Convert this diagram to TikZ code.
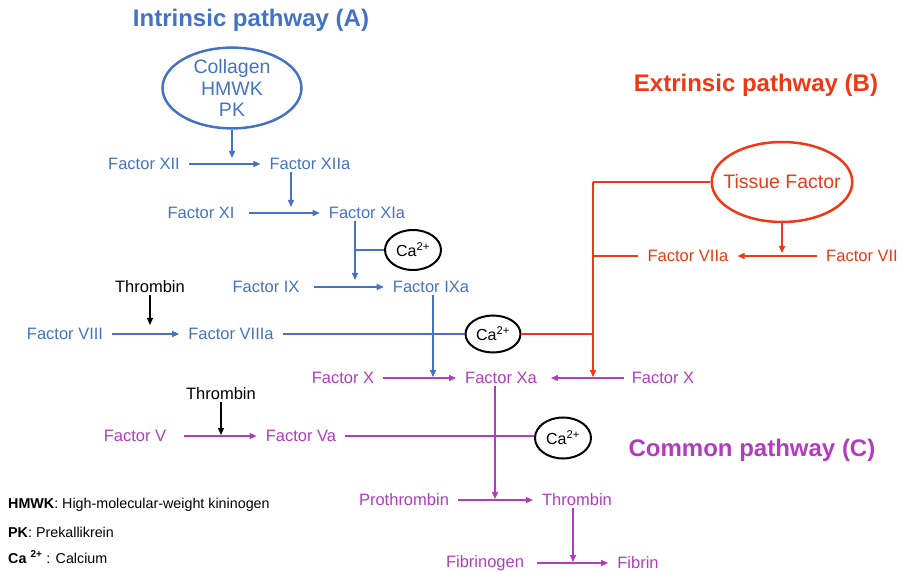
\documentclass[tikz,border=0pt]{standalone}
\usepackage{fontspec}
\setmainfont{Liberation Sans}
\usetikzlibrary{arrows.meta}
\usetikzlibrary{shapes.geometric}

\definecolor{intblue}{RGB}{68,114,196}
\definecolor{extred}{RGB}{240,56,20}
\definecolor{commag}{RGB}{177,60,191}

\begin{document}
\begin{tikzpicture}[x=1pt,y=-1pt,
    fac/.style={inner xsep=9pt,inner ysep=2pt,font=\fontsize{16.5}{20}\selectfont},
    intr/.style={fac,text=intblue},
    extr/.style={fac,text=extred},
    comm/.style={fac,text=commag},
    ttl/.style={font=\bfseries\fontsize{24}{28}\selectfont},
    oval/.style={ellipse,draw,line width=2.5pt,inner sep=0pt,font=\fontsize{19.5}{21.5}\selectfont},
    caoval/.style={ellipse,draw=black,line width=2pt,minimum width=56pt,minimum height=40pt,inner sep=0pt,font=\fontsize{16}{18}\selectfont},
    ln/.style={line width=1.4pt},
    arr/.style={ln,-{Triangle[length=7pt,width=6pt]}}]
    \useasboundingbox (0,0) rectangle (906,572);%
    % titles
    \node[ttl,text=intblue] (ttla) at (251,20) {Intrinsic pathway (A)};%
    \node[ttl,text=extred] (ttlb) at (756,85) {Extrinsic pathway (B)};%
    \node[ttl,text=commag] (ttlc) at (752,450) {Common pathway (C)};%
    % intrinsic pathway
    \node[oval,draw=intblue,text=intblue,align=center,minimum width=139pt,minimum height=77pt] (coll) at (232,88) {Collagen\\HMWK\\PK};%
    \node[intr] (f12) at (144,164) {Factor XII};%
    \node[intr] (f12a) at (310,164) {Factor XIIa};%
    \node[intr] (f11) at (201,213) {Factor XI};%
    \node[intr] (f11a) at (367,213) {Factor XIa};%
    \node[intr] (f9) at (266,287) {Factor IX};%
    \node[intr] (f9a) at (431,287) {Factor IXa};%
    \node[intr] (f8) at (65,334) {Factor VIII};%
    \node[intr] (f8a) at (231,334) {Factor VIIIa};%
    \node[fac] (thr1) at (150,287) {Thrombin};%
    \node[caoval] (ca1) at (413,250) {Ca\textsuperscript{2+}};%
    \node[caoval,minimum width=55pt,minimum height=37pt] (ca2) at (493,334) {Ca\textsuperscript{2+}};%
    % extrinsic pathway
    \node[oval,draw=extred,text=extred,inner xsep=-9pt,minimum width=140pt,minimum height=80pt] (tf) at (782,182) {Tissue Factor};%
    \node[extr] (f7a) at (688,256) {Factor VIIa};%
    \node[extr] (f7) at (862,256) {Factor VII};%
    % common pathway
    \node[comm] (fx1) at (343,378) {Factor X};%
    \node[comm] (fxa) at (501,378) {Factor Xa};%
    \node[comm] (fx2) at (663,378) {Factor X};%
    \node[fac] (thr2) at (221,394) {Thrombin};%
    \node[comm] (f5) at (135,436) {Factor V};%
    \node[comm] (f5a) at (301,436) {Factor Va};%
    \node[caoval,minimum height=41pt] (ca3) at (563,438) {Ca\textsuperscript{2+}};%
    \node[comm] (pro) at (404,500) {Prothrombin};%
    \node[comm] (thr) at (577,500) {Thrombin};%
    \node[comm] (fbg) at (485,563) {Fibrinogen};%
    \node[comm] (fib) at (638,563) {Fibrin};%
    % junctions
    \coordinate (j2) at (291,213);%
    \coordinate (j3) at (355,287);%
    \coordinate (j5) at (433,378);%
    \coordinate (jr) at (593,378);%
    \coordinate (j9) at (495,500);%
    \coordinate (j10) at (573,563);%
    % intrinsic connectors
    \draw[arr,intblue,shorten >=6pt] (coll) -- (coll |- f12);%
    \draw[arr,intblue] (f12) -- (f12a);%
    \draw[arr,intblue,shorten >=6pt] (f12a.south -| j2) -- (j2);%
    \draw[arr,intblue,shorten <=5pt] (f11) -- (f11a);%
    \draw[arr,intblue,shorten >=7pt] (f11a.south -| j3) -- (j3);%
    \draw[ln,intblue] (ca1) -- (ca1 -| j3);%
    \draw[arr,intblue,shorten <=5pt] (f9) -- (f9a);%
    \draw[arr,line width=1.2pt,shorten >=9pt] (thr1) -- (thr1 |- f8);%
    \draw[arr,intblue] (f8) -- (f8a);%
    \draw[ln,intblue] (f8a) -- (ca2);%
    \draw[arr,intblue,shorten >=1pt] (f9a.south -| j5) -- (j5);%
    % extrinsic connectors
    \draw[ln,extred] (tf) -- (tf -| jr);%
    \draw[arr,extred,shorten >=1pt] (tf -| jr) -- (jr);%
    \draw[ln,extred] (f7a) -- (f7a -| jr);%
    \draw[ln,extred] (ca2) -- (ca2 -| jr);%
    \draw[arr,extred,shorten >=3pt] (tf) -- (tf |- f7);%
    \draw[arr,extred] (f7) -- (f7a);%
    % common connectors
    \draw[arr,commag] (fx1) -- (fxa);%
    \draw[arr,commag,shorten <=-1pt,shorten >=5pt] (fx2) -- (fxa);%
    \draw[arr,commag,shorten >=1pt] (fxa.south -| j9) -- (j9);%
    \draw[arr,line width=1.2pt,shorten >=1pt] (thr2) -- (thr2 |- f5);%
    \draw[arr,commag,shorten <=9pt] (f5) -- (f5a);%
    \draw[ln,commag] (f5a) -- (ca3.west |- f5a);%
    \draw[arr,commag] (pro) -- (thr);%
    \draw[arr,commag,shorten >=1pt] (thr.south -| j10) -- (j10);%
    \draw[arr,commag,shorten <=4pt] (fbg) -- (fib);%
    % legend
    \node[anchor=west,inner sep=0pt,font=\fontsize{14.3}{17}\selectfont] (lg1) at (8,505) {\textbf{HMWK}: High-molecular-weight kininogen};%
    \node[anchor=west,inner sep=0pt,font=\fontsize{14.3}{17}\selectfont] (lg2) at (8,532) {\textbf{PK}: Prekallikrein};%
    \node[anchor=west,inner sep=0pt,font=\fontsize{14.3}{17}\selectfont] (lg3) at (8,557) {\textbf{Ca} \textsuperscript{\textbf{2+}} : Calcium};%
\end{tikzpicture}
\end{document}
